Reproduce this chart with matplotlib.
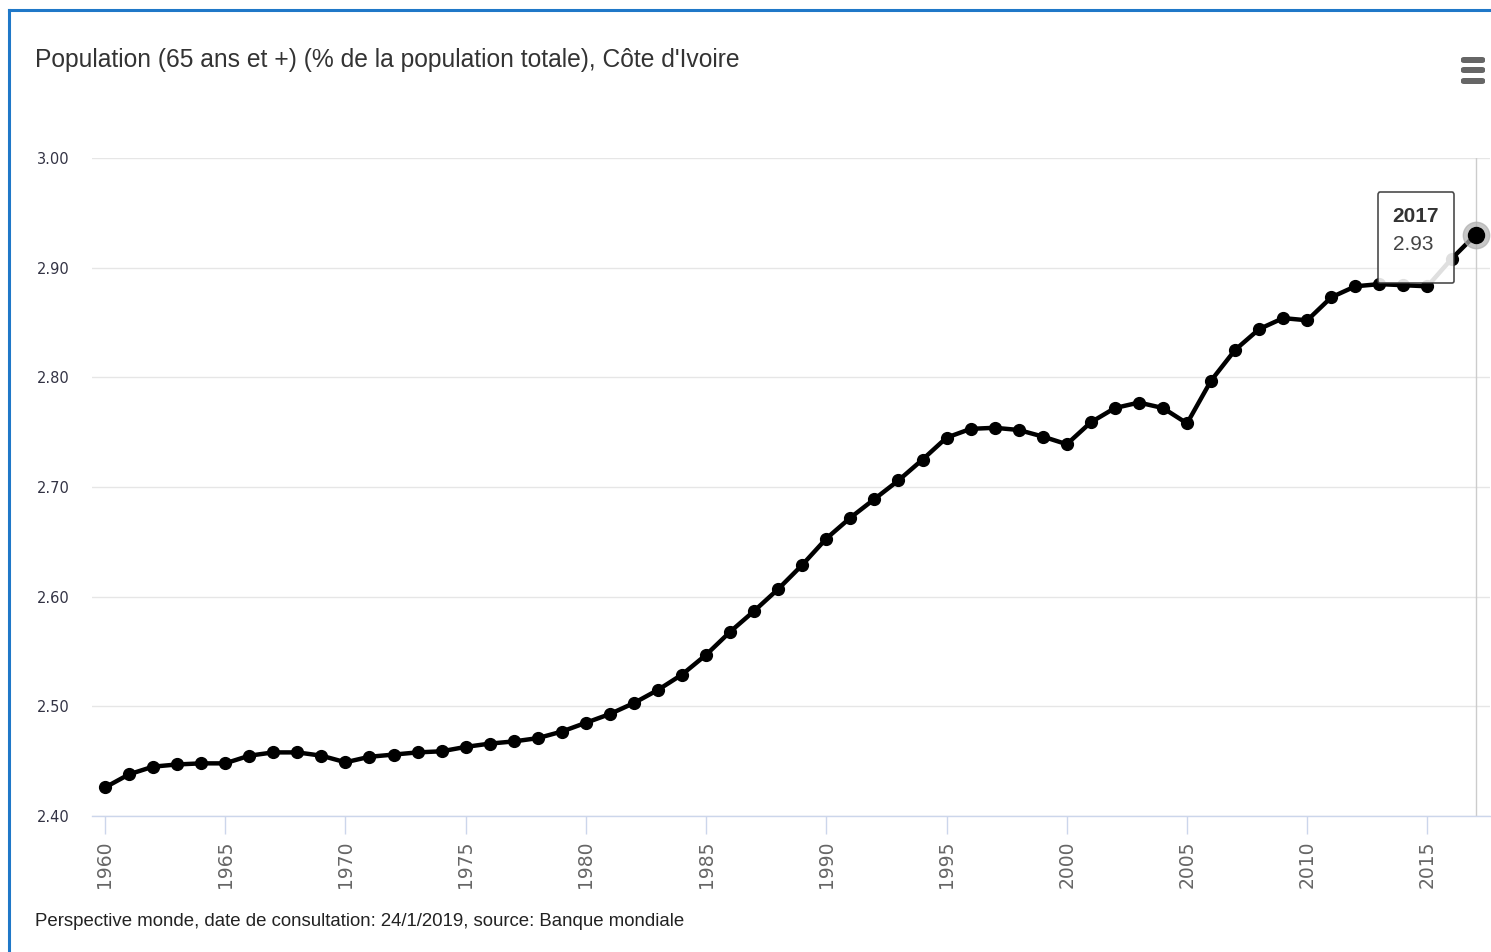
import matplotlib
matplotlib.use("Agg")
import matplotlib.pyplot as plt
from matplotlib.patches import FancyBboxPatch
from matplotlib.lines import Line2D
from matplotlib.offsetbox import TextArea, VPacker, AnnotationBbox

# data (% of total population aged 65+)
years = list(range(1960, 2018))
values = [2.426, 2.438, 2.445, 2.447, 2.448, 2.448, 2.455, 2.458, 2.458, 2.455,
          2.449, 2.454, 2.456, 2.458, 2.459, 2.463, 2.466, 2.468, 2.471, 2.477,
          2.485, 2.493, 2.503, 2.515, 2.529, 2.547, 2.568, 2.587, 2.607, 2.629,
          2.653, 2.672, 2.689, 2.706, 2.725, 2.745, 2.753, 2.754, 2.752, 2.746,
          2.739, 2.759, 2.772, 2.777, 2.772, 2.758, 2.797, 2.825, 2.844, 2.854,
          2.852, 2.873, 2.883, 2.885, 2.884, 2.883, 2.908, 2.93]
yticks = [2.40, 2.50, 2.60, 2.70, 2.80, 2.90, 3.00]
xticks = list(range(1960, 2016, 5))

title = "Population (65 ans et +) (% de la population totale), Côte d'Ivoire"
footer = "Perspective monde, date de consultation: 24/1/2019, source: Banque mondiale"
narrow = ["Liberation Sans", "DejaVu Sans"]

W, H = 1491, 952
fig = plt.figure(figsize=(W / 100, H / 100), dpi=100)
ax = fig.add_axes([92 / W, 1 - 816 / H, (1490 - 92) / W, (816 - 158) / H])

ax.plot(years, values, color="black", lw=3.2, marker="o", ms=8.5, zorder=3)
# hovered point
ax.plot(years[-1], values[-1], "o", ms=19, color="#b0b0b0", alpha=0.7, zorder=4)
ax.plot(years[-1], values[-1], "o", ms=11.5, color="black", zorder=5)
ax.axvline(years[-1], color="#cccccc", lw=1, zorder=1)

ax.set_xlim(1959.46, 2017.6)
ax.set_ylim(2.40, 3.00)
ax.set_yticks(yticks)
ax.set_yticklabels([f"{v:.2f}" for v in yticks], fontsize=10.5, color="#333344")
ax.set_xticks(xticks)
ax.set_xticklabels([str(x) for x in xticks], rotation=90, fontsize=13.5,
                   color="#666666", va="top")
ax.tick_params(axis="y", length=0, pad=16)
ax.tick_params(axis="x", length=13, width=1, color="#ccd6eb", pad=5)
ax.grid(axis="y", color="#e6e6e6", lw=1)
ax.set_axisbelow(True)
for s in ["top", "right", "left"]:
    ax.spines[s].set_visible(False)
ax.spines["bottom"].set_color("#ccd6eb")
ax.spines["bottom"].set_linewidth(1)

# tooltip
t1 = TextArea(str(years[-1]), textprops=dict(fontsize=15, fontweight="bold",
                                              color="#333333", family=narrow))
t2 = TextArea(f"{values[-1]:.2f}", textprops=dict(fontsize=15, color="#444444",
                                                   family=narrow))
t3 = TextArea(" ", textprops=dict(fontsize=4, family=narrow))
pack = VPacker(children=[t1, t2, t3], align="left", pad=10, sep=6.5)
ab = AnnotationBbox(pack, (years[-1], values[-1]), xybox=(-43, -2),
                    boxcoords="offset points", frameon=True,
                    bboxprops=dict(boxstyle="round,pad=0.05,rounding_size=0.15",
                                   fc="white", ec="#333333", lw=1.2, alpha=0.88),
                    zorder=6)
ax.add_artist(ab)

fig.text(35 / W, 1 - 60 / H, title, fontsize=17.7, color="#333333",
         family=narrow, va="center", ha="left")
fig.text(35 / W, 1 - 922 / H, footer, fontsize=13.4, color="#222222",
         family=narrow, va="center", ha="left")

# menu icon
for yb in (57, 67, 78):
    fig.patches.append(FancyBboxPatch((1461 / W, 1 - (yb + 6) / H), 24 / W, 6 / H,
                                      boxstyle="round,pad=0,rounding_size=0.002",
                                      transform=fig.transFigure, fc="#666666",
                                      ec="none"))

# blue frame
fig.lines.append(Line2D([9 / W, 9 / W], [0, 1 - 10 / H], transform=fig.transFigure,
                        color="#1f78c8", lw=2.2))
fig.lines.append(Line2D([9 / W, 1], [1 - 10 / H, 1 - 10 / H], transform=fig.transFigure,
                        color="#1f78c8", lw=2.2))

fig.savefig("out.png", dpi=100)
